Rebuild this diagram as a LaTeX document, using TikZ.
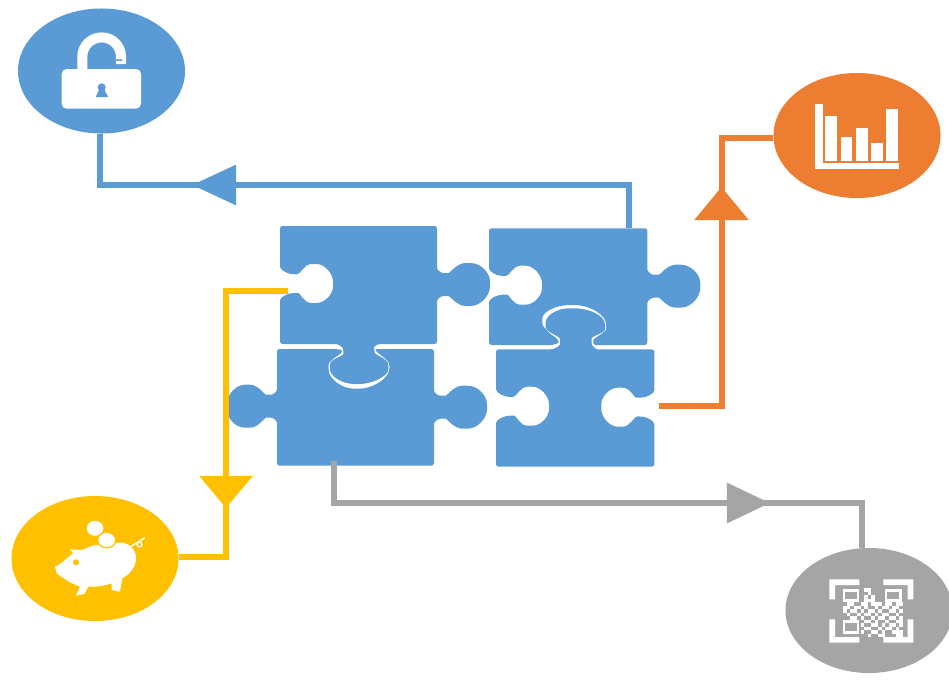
\documentclass[tikz,border=0pt]{standalone}
\usepackage{xcolor}
\usetikzlibrary{arrows.meta, shapes.geometric}
\definecolor{puzzleblue}{HTML}{5B9BD5}
\definecolor{linkorange}{HTML}{ED7D31}
\definecolor{pigyellow}{HTML}{FFC000}
\definecolor{codegray}{HTML}{A5A5A5}

% one tab on a vertical edge, drawn at the origin and bulging to the right
\newcommand{\knobout}{-- (0,-19) .. controls (0,-14) and (4,-11) .. (9,-11) .. controls (13,-11) and (20,-21) .. (31,-21) .. controls (44,-21) and (53,-11) .. (53,0) .. controls (53,11) and (44,22) .. (31,22) .. controls (20,22) and (13,12) .. (9,12) .. controls (4,12) and (0,15) .. (0,20)}
% one socket on a vertical edge
\newcommand{\notchin}{-- (0,-19) .. controls (0,-13) and (8,-9) .. (16,-9) .. controls (20,-9) and (24,-19) .. (34,-19) .. controls (45,-19) and (53,-10) .. (53,0) .. controls (53,10) and (45,20) .. (34,20) .. controls (24,20) and (20,9) .. (14,10) .. controls (8,10) and (0,14) .. (0,20)}
% the two tabs that hang between the rows
\newcommand{\tabdown}{.. controls (378,344) and (374,346) .. (374.3,350) .. controls (375,355) and (388.3,359) .. (388.3,367)
    .. controls (388.3,376) and (372,384) .. (356.7,384) .. controls (342,384) and (330,376) .. (330,367)
    .. controls (330,359) and (343.5,356) .. (343.3,351.5) .. controls (343,347) and (338,344) .. (333.3,344)}
\newcommand{\tabup}{.. controls (554,349.3) and (560,346) .. (560,341.7)
    .. controls (560,336) and (545.7,332) .. (545.7,325) .. controls (545.7,315) and (558,308.3) .. (571.7,308.3)
    .. controls (590,308.3) and (605,316) .. (605,326.7) .. controls (605,333) and (591.7,336) .. (591.7,341)
    .. controls (591.7,346) and (596,349.3) .. (600,349.3)}

\begin{document}
\begin{tikzpicture}[
    x=0.025cm, y=-0.025cm,
    piece/.style={fill=puzzleblue, rounded corners=1.8pt},
    seam/.style={draw=white, line width=0.06cm},
    disc/.style={ellipse, minimum width=4.175cm, minimum height=3.125cm, inner sep=0pt},
    icon/.style={fill=white},
    link/.style={line width=0.15cm},
    tail/.style={link, shorten <=-0.3cm},
  ]
  \useasboundingbox (0,0) rectangle (949,679);

  % Puzzle pieces
  \path[piece] (277,349) -- (330,349) .. controls (337,349) and (343.5,350) .. (343.5,353)
    .. controls (343.5,357) and (328.7,359) .. (328.7,367) .. controls (328.7,379) and (342,388.7) .. (356.7,388.7)
    .. controls (373,388.7) and (389,378) .. (389,367) .. controls (389,359) and (374.5,355) .. (374.3,351.5)
    .. controls (374.3,350) and (377,349) .. (380,349)
    -- (434,349) {[shift={(434,406.7)}] \knobout} -- (434,465.7)
    -- (277,465.7) {[shift={(277,406.7)}, xscale=-0.95, yscale=-1] \knobout} -- cycle;
  \path[seam] (383.3,344) \tabdown;

  \path[piece] (280,226) -- (437,226) {[shift={(437,284)}] \knobout} -- (437,344) -- (383.3,344) \tabdown
    -- (280,344) {[shift={(280,284)}, yscale=-1] \notchin} -- cycle;

  \path[piece] (489,228.3) -- (647.3,228.3) {[shift={(647.3,285.7)}] \knobout} -- (647.3,345) -- (598.3,345)
    .. controls (595,345) and (591.7,343) .. (591.7,340.3) .. controls (591.7,336) and (606,333) .. (606,326.7)
    .. controls (606,315) and (590,305) .. (571.7,305) .. controls (556,305) and (542.3,312) .. (542.3,321)
    .. controls (542.3,330) and (559.5,335) .. (559.3,340) .. controls (559,343) and (553,345) .. (548.3,345)
    -- (489,345) {[shift={(489,285.7)}, yscale=-1] \notchin} -- cycle;
  \path[seam] (548.3,349.3) \tabup;

  \path[piece] (496,349.3) -- (548.3,349.3) \tabup
    -- (654.3,349.3) {[shift={(654.3,406.7)}, xscale=-1] \notchin} -- (654.3,466.7)
    -- (496,466.7) {[shift={(496,406.7)}, yscale=-1] \notchin} -- cycle;

  % Discs
  \node[disc, fill=puzzleblue] (lockdisc) at (101.5,71) {};
  \node[disc, fill=linkorange] (chartdisc) at (857,135.5) {};
  \node[disc, fill=pigyellow] (pigdisc) at (95,558.5) {};
  \node[disc, fill=codegray] (codedisc) at (869,610.5) {};

  % Connector ends
  \coordinate (bluestart) at (628.7,228);
  \coordinate (bluetip) at (192,185);
  \coordinate (orangestart) at (659,406);
  \coordinate (orangetip) at (721.5,187);
  \coordinate (yellowstart) at (288,291);
  \coordinate (yellowtip) at (226,508);
  \coordinate (graystart) at (334,461);
  \coordinate (graytip) at (770,503);

  % Arrows
  \draw[link, puzzleblue, -{Triangle[length=1.1cm, width=0.975cm]}] (bluestart) |- (bluetip);
  \draw[tail, puzzleblue] (bluetip) -| (lockdisc.269);
  \draw[link, linkorange, -{Triangle[length=0.825cm, width=1.325cm]}] (orangestart) -| (orangetip);
  \draw[tail, linkorange] (orangetip) |- (chartdisc.182);
  \draw[link, pigyellow, -{Triangle[length=0.8cm, width=1.3cm]}] (yellowstart) -| (yellowtip);
  \draw[tail, pigyellow] (yellowtip) |- (pigdisc.1);
  \draw[link, codegray, -{Triangle[length=1.075cm, width=0.975cm]}] (graystart) |- (graytip);
  \draw[tail, codegray] (graytip) -| (codedisc.96);

  % Lock
  \path[icon, rounded corners=3.5pt] (61.7,69) rectangle (141,108.7);
  \draw[white, line width=0.25cm] (82.3,70) -- (82.3,56.7) .. controls (82.3,46) and (91,37.4) .. (101.7,37.4)
    .. controls (112.4,37.4) and (121,46) .. (121,56.7) -- (121,64);
  \path[fill=puzzleblue] (116,59.3) rectangle (122,61);
  \path[icon] (116,55) -- (122,59.3) -- (116,59.3) -- cycle;
  \path[fill=puzzleblue] (101.7,87.3) circle [radius=4];
  \path[fill=puzzleblue] (100,88) -- (95.7,97) -- (108.3,97) -- (103.4,88) -- cycle;

  % Bar chart
  \path[icon] (815,104.3) rectangle (823,169);
  \path[icon] (815,163) rectangle (899,169);
  \path[icon] (825.3,115.7) rectangle (837.3,160.7);
  \path[icon] (840.7,136.7) rectangle (852.3,160.7);
  \path[icon] (856,128) rectangle (867.7,160.7);
  \path[icon] (871.3,143) rectangle (882.7,160.7);
  \path[icon] (886.3,108.7) rectangle (898,160.7);

  % Piggy bank
  \path[icon] (55,566.7) -- (56.7,573.3) .. controls (63,578) and (70,583) .. (80,586.7)
    -- (76,595.7) -- (84.3,594) -- (88.3,586.7) .. controls (97,587) and (104,586) .. (111.7,583.3)
    -- (111.7,590) -- (120,591.7) -- (122.3,578.3) .. controls (130,574) and (136,567) .. (136,558.3)
    .. controls (136,550) and (130,544) .. (122,542.5) -- (95,545)
    .. controls (90,546) and (86,549) .. (81.7,550) -- (70,549.3) -- (73.3,553.3)
    .. controls (66,558) and (62,564) .. (55,566.7) -- cycle;
  \path[icon] (95,528.3) ellipse [x radius=8.3, y radius=7.5];
  \path[icon, draw=pigyellow, line width=0.03cm] (106.7,540) ellipse [x radius=9, y radius=7.8];
  \path[fill=pigyellow] (76,562.3) circle [radius=3];
  \draw[white, line width=0.035cm] (130,547) -- (145,537.7);
  \draw[white, line width=0.035cm] (139.5,544.5) circle [radius=2.5];

  % QR code
  \path[icon] (829.3,579.3) -- (859.3,579.3) -- (859.3,585) -- (835,585) -- (835,599.3) -- (829.3,599.3) -- cycle;
  \path[icon] (913.3,579.3) -- (883.3,579.3) -- (883.3,585) -- (907.6,585) -- (907.6,599.3) -- (913.3,599.3) -- cycle;
  \path[icon] (829.3,642.7) -- (859.3,642.7) -- (859.3,637) -- (835,637) -- (835,619.3) -- (829.3,619.3) -- cycle;
  \path[icon] (913.3,642.7) -- (883.3,642.7) -- (883.3,637) -- (907.6,637) -- (907.6,619.3) -- (913.3,619.3) -- cycle;
  \draw[white, line width=0.07cm] (844,590.5) rectangle (858,600.5);
  \draw[white, line width=0.07cm] (886,590.5) rectangle (900.5,600.5);
  \draw[white, line width=0.07cm] (844,621.5) rectangle (858,632.5);
  \foreach \cx/\cy in {6/0,7/0,7/1,6/2,8/2,8/3,6/3,7/3,
      1/4,2/4,5/4,6/4,8/4,9/4,10/4,12/4,13/4,15/4,16/4,
      0/5,1/5,3/5,4/5,6/5,9/5,11/5,12/5,14/5,15/5,
      0/6,2/6,3/6,5/6,7/6,8/6,10/6,13/6,14/6,16/6,
      1/7,4/7,6/7,7/7,9/7,11/7,12/7,15/7,
      2/8,3/8,5/8,8/8,10/8,11/8,13/8,14/8,16/8,
      6/9,7/9,9/9,12/9,15/9,16/9,
      5/10,8/10,9/10,11/10,13/10,14/10,16/10,
      6/11,7/11,10/11,12/11,13/11,15/11,
      5/12,8/12,9/12,11/12,14/12,15/12,16/12,
      7/13,10/13,11/13,15/13,16/13}
    \path[icon] (843+3.5*\cx,588+3.5*\cy) rectangle ++(3.5,3.5);

\end{tikzpicture}
\end{document}
